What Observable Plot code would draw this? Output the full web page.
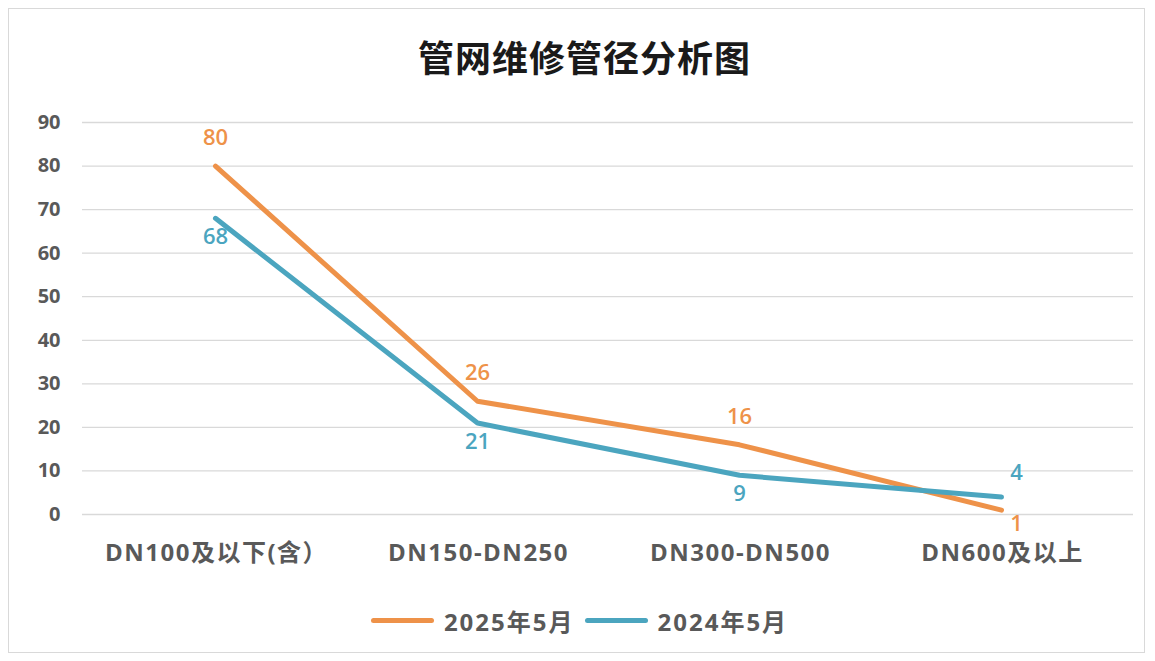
<!DOCTYPE html>
<html>
<head>
<meta charset="utf-8">
<script src="https://cdn.jsdelivr.net/npm/d3@7"></script>
<script src="https://cdn.jsdelivr.net/npm/@observablehq/plot@0.6"></script>
<style>
  html, body { margin: 0; padding: 0; background: #fff; }
  body { width: 1155px; height: 661px; position: relative; overflow: hidden;
         font-family: "Open Sans", "Noto Sans CJK SC", sans-serif; }
  #frame { position: absolute; left: 8px; top: 8px; width: 1137px; height: 645px;
           border: 1px solid #d9d9d9; box-sizing: border-box; }
  #title { position: absolute; left: 0; width: 1155px; top: 28px; text-align: center;
           font-family: "Noto Sans CJK SC", sans-serif; font-weight: 700; font-size: 36px;
           color: #1a1a1a; line-height: 56px; padding-left: 14px; box-sizing: border-box; letter-spacing: 1px; }
  #chart { position: absolute; left: 0; top: 100px; }
  #chart g[aria-label="x-axis tick label"] text { letter-spacing: 1.5px; }
  #legend { position: absolute; left: 0; width: 1155px; top: 603px; display: flex;
            justify-content: center; align-items: center; padding-left: 4px; box-sizing: border-box;
            font-family: "Open Sans", "Noto Sans CJK SC", sans-serif; font-weight: 700;
            font-size: 24px; letter-spacing: 2px; color: #595959; }
  .item { display: flex; align-items: center; margin: 0 5px; }
  .swatch { width: 63px; height: 5px; border-radius: 3px; margin-right: 10px; }
</style>
</head>
<body>
<div id="frame"></div>
<div id="title">管网维修管径分析图</div>
<div id="chart"></div>
<div id="legend"></div>
<script>
const categories = ["DN100及以下(含）", "DN150-DN250", "DN300-DN500", "DN600及以上"];
const seriesNames = ["2025年5月", "2024年5月"];
const values2025 = [80, 26, 16, 1];
const values2024 = [68, 21, 9, 4];
const yTicks = [0, 10, 20, 30, 40, 50, 60, 70, 80, 90];
const colors = ["#EE9249", "#4BA5BF"];

const seriesValues = [values2025, values2024];
const rows = [];
seriesNames.forEach((s, si) => {
  categories.forEach((c, ci) => {
    const v = seriesValues[si][ci];
    const other = seriesValues[1 - si][ci];
    rows.push({cat: c, series: s, value: v, above: v >= other, last: ci === categories.length - 1});
  });
});

const labelStyle = {x: "cat", y: "value", text: d => String(d.value), fill: "series", fontSize: 22, fontWeight: 600};

const chart = Plot.plot({
  width: 1155,
  height: 480,
  marginTop: 22,
  marginBottom: 66,
  marginLeft: 82,
  marginRight: 22,
  style: {fontFamily: '"Open Sans", "Noto Sans CJK SC", sans-serif', color: "#595959", background: "transparent"},
  x: {type: "point", domain: categories, padding: 0.5, label: null},
  y: {domain: [0, 90], ticks: yTicks, label: null},
  color: {domain: seriesNames, range: colors},
  marks: [
    Plot.gridY(yTicks, {stroke: "#d9d9d9", strokeOpacity: 1, strokeWidth: 1.3}),
    Plot.axisY(yTicks, {tickSize: 0, tickPadding: 22, fontSize: 20, fontWeight: 700, fill: "#595959", label: null}),
    Plot.axisX({tickSize: 0, tickPadding: 29, dx: 1, fontSize: 24, fontWeight: 700, fill: "#595959", label: null}),
    Plot.line(rows, {x: "cat", y: "value", z: "series", stroke: "series", strokeWidth: 5, curve: "linear", strokeLinecap: "round"}),
    Plot.text(rows.filter(d => d.above && !d.last), {...labelStyle, dy: -28}),
    Plot.text(rows.filter(d => !d.above && !d.last), {...labelStyle, dy: 19}),
    Plot.text(rows.filter(d => d.above && d.last), {...labelStyle, dy: -24, dx: 15}),
    Plot.text(rows.filter(d => !d.above && d.last), {...labelStyle, dy: 14, dx: 15})
  ]
});
document.getElementById("chart").appendChild(chart);

const legend = document.getElementById("legend");
seriesNames.forEach((s, i) => {
  const item = document.createElement("div");
  item.className = "item";
  const sw = document.createElement("div");
  sw.className = "swatch";
  sw.style.background = colors[i];
  const lab = document.createElement("span");
  lab.textContent = s;
  item.appendChild(sw);
  item.appendChild(lab);
  legend.appendChild(item);
});
</script>
</body>
</html>
